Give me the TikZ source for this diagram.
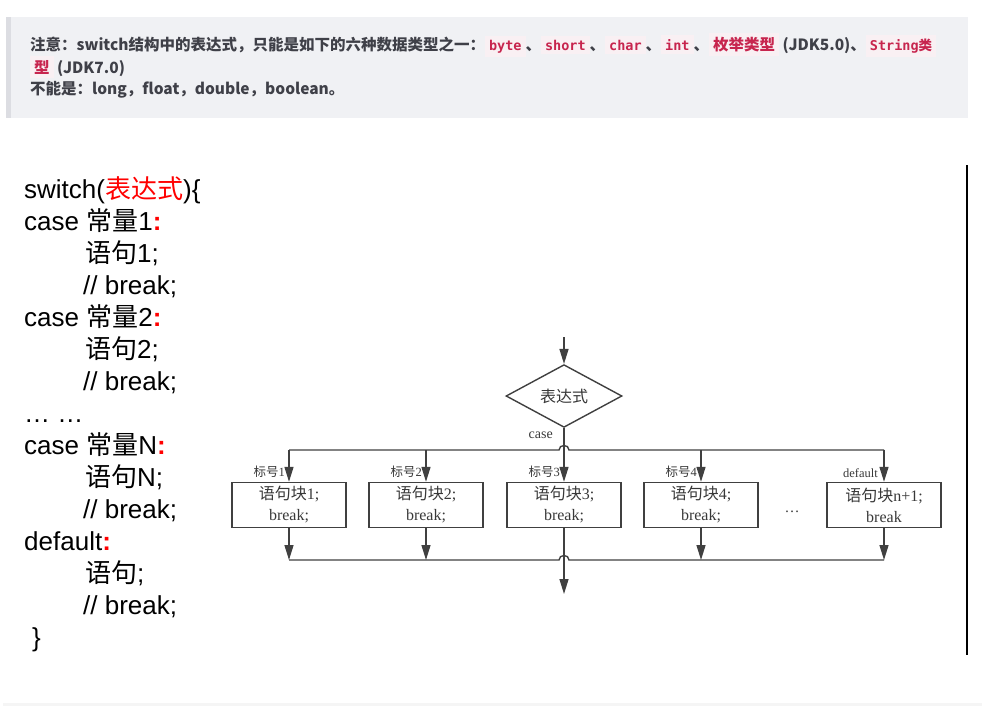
\documentclass[tikz,border=0pt]{standalone}
\usepackage{fontspec}
\setmainfont{Liberation Serif}
\setsansfont{Liberation Sans}
\setmonofont{DejaVu Sans Mono}
\newfontfamily\cjk{Noto Sans CJK SC}
\usepackage{xcolor}
\usetikzlibrary{
    arrows.meta,
    shapes.geometric,
    positioning
}
\definecolor{notebg}{HTML}{F0F1F4}
\definecolor{notebar}{HTML}{DCDDE2}
\definecolor{notetext}{HTML}{3F4048}
\definecolor{codered}{HTML}{C7254E}
\definecolor{codebg}{HTML}{F9F0F3}
\definecolor{linec}{HTML}{404040}
\definecolor{flowtext}{HTML}{383838}
\newcommand{\chip}[1]{{\setlength{\fboxsep}{4pt}\colorbox{codebg}{\textcolor{codered}{#1}}}}
\newcommand{\mono}{\ttfamily\fontsize{13.5}{15}\selectfont}
\newcommand{\cc}[1]{{\cjk #1}}
\newcommand{\rc}{\textcolor{red}{\textbf{:}}}

\begin{document}
\begin{tikzpicture}[x=1pt, y=-1pt,
    notefont/.style={font=\cjk\bfseries\fontsize{15.5}{18}\selectfont, text=notetext, inner sep=0pt, anchor=west},
    blk/.style={draw=linec, line width=1.4pt, minimum width=114pt, minimum height=45pt, align=center,
        inner sep=1pt, text=flowtext, font=\fontsize{16}{21}\selectfont},
    dec/.style={diamond, draw=linec, line width=1.4pt, minimum width=116pt, minimum height=48pt,
        inner sep=0pt, text=flowtext, font=\cjk\fontsize{16}{18}\selectfont},
    lab/.style={text=flowtext, inner sep=0pt, font=\fontsize{12.5}{14}\selectfont},
    arr/.style={draw=linec, line width=1.4pt, -{Triangle[length=15pt,width=9pt]}},
    wire/.style={draw=linec, line width=1.4pt}
]
    \useasboundingbox (0,0) rectangle (985,707);
    % note box
    \fill[notebg] (6,17) rectangle (968,118);
    \fill[notebar] (6,17) rectangle (11,118);
    \node[notefont] (note1) at (30,45) {注意：switch结构中的表达式，只能是如下的六种数据类型之一：\chip{\mono byte}、\chip{\mono short}、\chip{\mono char}、\chip{\mono int}、\chip{枚举类型} (JDK5.0)、\chip{\mono String\cjk\bfseries 类}};
    \node[notefont] (note2) at (30,67) {\chip{型} (JDK7.0)};
    \node[notefont] (note3) at (30,90) {不能是：long，float，double，boolean。};
    \fill[black!4] (3,703) rectangle (982,706);
    % code
    \node[anchor=north west, inner sep=0pt, align=left, font=\sffamily\fontsize{26}{32}\selectfont] (code) at (24,176) {%
        switch(\textcolor{red}{\cc{表达式}})\{\\
        case \cc{常量}1\rc\\
        \hspace*{61pt}\cc{语句}1;\\
        \hspace*{59pt}// break;\\
        case \cc{常量}2\rc\\
        \hspace*{61pt}\cc{语句}2;\\
        \hspace*{59pt}// break;\\
        … …\\
        case \cc{常量}N\rc\\
        \hspace*{61pt}\cc{语句}N;\\
        \hspace*{59pt}// break;\\
        default\rc\\
        \hspace*{61pt}\cc{语句};\\
        \hspace*{59pt}// break;\\
        \hspace*{8pt}\}};
    \draw[line width=1.5pt] (967,165) -- (967,655);
    % flow chart
    \coordinate (entry) at (564,337);
    \node[dec] (expr) at (564,396) {表达式};
    \node[blk] (b1) at (289,505) {\cc{语句块}1;\\break;};
    \node[blk] (b2) at (426,505) {\cc{语句块}2;\\break;};
    \node[blk] (b3) at (564,505) {\cc{语句块}3;\\break;};
    \node[blk] (b4) at (701,505) {\cc{语句块}4;\\break;};
    \node[blk] (b5) at (884,505) {\cc{语句块}n+1;\\break};
    \node[text=flowtext, font=\fontsize{15}{18}\selectfont] (dots) at (792,512) {…};
    \coordinate (top) at (564,450);
    \coordinate (low) at (564,560);
    \coordinate (exit) at (564,594);
    \draw[arr] (entry) -- (expr.north);
    \node[lab, anchor=north east, font=\fontsize{14}{16}\selectfont] (caselab) at ([xshift=-11pt,yshift=-4pt]expr.south) {case};
    \draw[arr] (expr.south) -- (b3.north);
    \draw[wire] (b1.north |- top) -- ([xshift=-5pt]top) .. controls ([xshift=-5pt,yshift=6pt]top) and ([xshift=5pt,yshift=6pt]top) .. ([xshift=5pt]top) -- (b5.north |- top);
    \draw[wire] (b1.south |- low) -- ([xshift=-5pt]low) .. controls ([xshift=-5pt,yshift=6pt]low) and ([xshift=5pt,yshift=6pt]low) .. ([xshift=5pt]low) -- (b5.south |- low);
    \foreach \b in {b1,b2,b4,b5} {
        \draw[arr] (\b.north |- top) -- (\b.north);
        \draw[arr] (\b.south) -- (\b.south |- low);
    }
    \draw[arr] (b3.south) -- (exit);
    \node[lab, anchor=south east] (l1) at ([xshift=-4pt,yshift=4pt]b1.north) {\cc{标号}1};
    \node[lab, anchor=south east] (l2) at ([xshift=-4pt,yshift=4pt]b2.north) {\cc{标号}2};
    \node[lab, anchor=south east] (l3) at ([xshift=-4pt,yshift=4pt]b3.north) {\cc{标号}3};
    \node[lab, anchor=south east] (l4) at ([xshift=-4pt,yshift=4pt]b4.north) {\cc{标号}4};
    \node[lab, anchor=south east] (l5) at ([xshift=-6pt,yshift=4pt]b5.north) {default};
\end{tikzpicture}
\end{document}
